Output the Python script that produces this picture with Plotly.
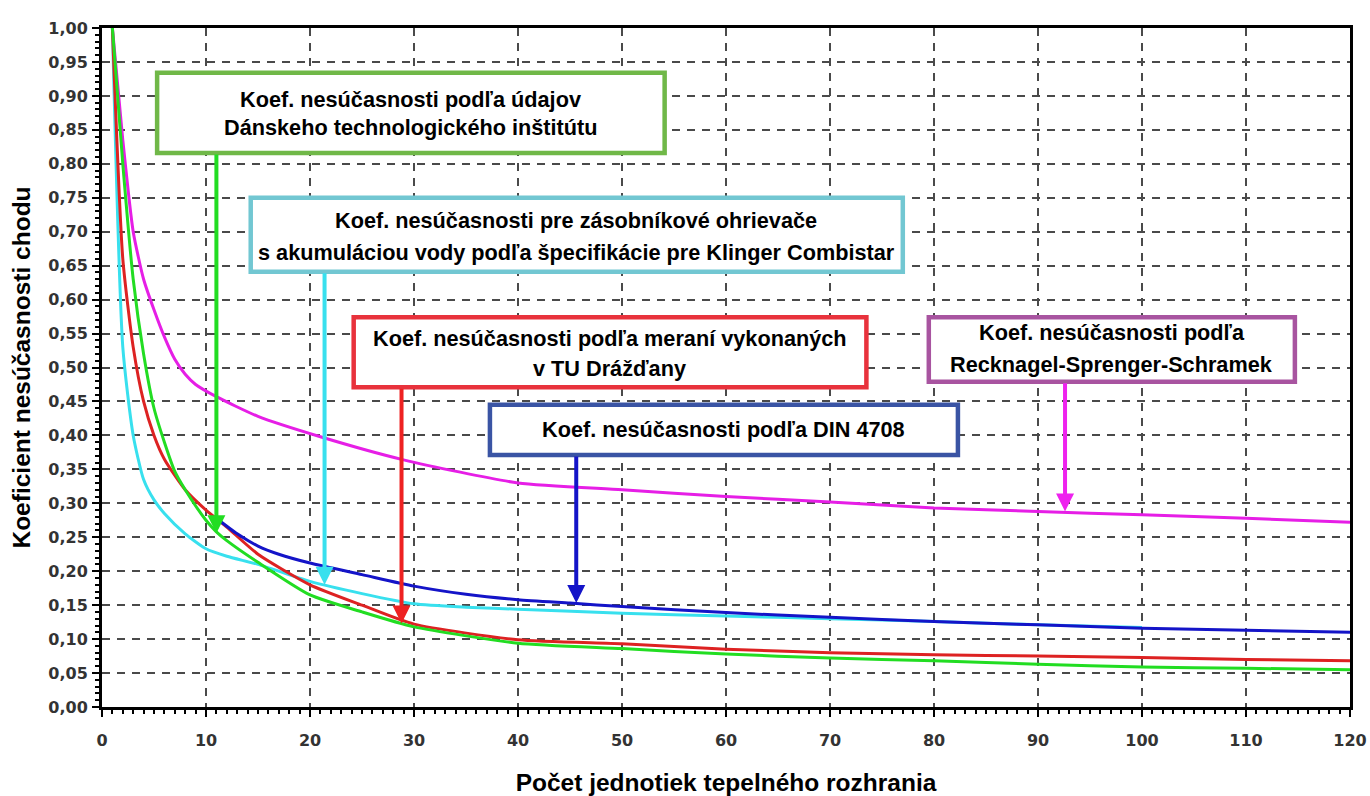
import plotly.graph_objects as go

# Koeficient nesúčasnosti - odčítané hodnoty z grafu
x_rss = [1, 2, 3, 4, 5, 6, 7, 8, 9, 11, 15, 21, 29, 40, 50, 60, 70, 80, 90, 100, 110, 120]
y_rss = [1.0, 0.835, 0.70, 0.63, 0.585, 0.545, 0.512, 0.49, 0.475, 0.457, 0.428, 0.398, 0.364,
         0.33, 0.32, 0.31, 0.302, 0.293, 0.288, 0.283, 0.278, 0.272]

x_klinger = [1, 2, 3, 4, 5, 6, 8, 10, 12, 15, 20, 25, 30, 35, 40, 50, 60, 70, 80, 90, 100]
y_klinger = [1.0, 0.53, 0.40, 0.335, 0.305, 0.285, 0.255, 0.233, 0.222, 0.21, 0.185,
             0.167, 0.152, 0.147, 0.144, 0.138, 0.134, 0.13, 0.126, 0.121, 0.117]

x_dresden = [1, 2, 3, 4, 5, 6, 8, 10, 12, 15, 20, 25, 30, 40, 50, 60, 70, 80, 90, 100, 110, 120]
y_dresden = [1.0, 0.66, 0.53, 0.45, 0.40, 0.365, 0.32, 0.29, 0.265, 0.225, 0.18, 0.15,
             0.122, 0.099, 0.093, 0.085, 0.080, 0.077, 0.075, 0.073, 0.070, 0.068]

x_dansko = [1, 2, 3, 4, 5, 6, 7, 8, 10, 11, 12, 15, 20, 25, 30, 40, 50, 60, 70, 80, 90, 100, 110, 120]
y_dansko = [1.0, 0.80, 0.63, 0.52, 0.44, 0.39, 0.347, 0.32, 0.275, 0.258, 0.245, 0.213,
            0.165, 0.14, 0.118, 0.094, 0.086, 0.078, 0.072, 0.068, 0.063, 0.059, 0.057, 0.055]

x_din = [11, 13, 15, 17, 20, 25, 30, 35, 40, 45, 50, 60, 70, 80, 90, 100, 110, 120]
y_din = [0.278, 0.255, 0.237, 0.225, 0.212, 0.195, 0.178, 0.166, 0.158, 0.153, 0.148,
         0.139, 0.132, 0.126, 0.121, 0.116, 0.113, 0.110]

x_ticks = list(range(0, 121, 10))
y_ticks = [i / 100 for i in range(0, 101, 5)]

FONT_BOX = "Liberation Sans, Arial, sans-serif"
FONT_TICK = "DejaVu Sans, Verdana, sans-serif"

fig = go.Figure()

krivky = [
    (x_rss, y_rss, "#e61ee6", "Recknagel-Sprenger-Schramek"),
    (x_klinger, y_klinger, "#38e0ee", "Klinger Combistar"),
    (x_dresden, y_dresden, "#dd2222", "TU Drážďany"),
    (x_dansko, y_dansko, "#22dd22", "Dánsky technologický inštitút"),
    (x_din, y_din, "#1414c8", "DIN 4708"),
]
for xs, ys, farba, meno in krivky:
    fig.add_trace(go.Scatter(x=xs, y=ys, mode="lines", name=meno,
                             line=dict(color=farba, width=3, shape="spline", smoothing=0.6)))

# rámčeky s popismi (x0, x1, y0, y1, farba okraja)
ramceky = [
    (5.3, 54.1, 0.816, 0.934, "#70b848"),
    (14.3, 77.0, 0.641, 0.750, "#72c7d2"),
    (24.2, 73.5, 0.471, 0.574, "#e8323c"),
    (37.3, 82.3, 0.371, 0.445, "#3a54a4"),
    (79.5, 114.7, 0.479, 0.574, "#a854a0"),
]
for x0, x1, y0, y1, farba in ramceky:
    fig.add_shape(type="rect", xref="x", yref="y", x0=x0, x1=x1, y0=y0, y1=y1,
                  line=dict(color=farba, width=4.5), fillcolor="white", layer="above")

popisy = [
    (29.7, 0.894, "Koef. nesúčasnosti podľa údajov"),
    (29.7, 0.853, "Dánskeho technologického inštitútu"),
    (45.6, 0.717, "Koef. nesúčasnosti pre zásobníkové ohrievače"),
    (45.6, 0.670, "s akumuláciou vody podľa špecifikácie pre Klinger Combistar"),
    (48.8, 0.542, "Koef. nesúčasnosti podľa meraní vykonaných"),
    (48.8, 0.498, "v TU Drážďany"),
    (59.8, 0.408, "Koef. nesúčasnosti podľa DIN 4708"),
    (97.1, 0.551, "Koef. nesúčasnosti podľa"),
    (97.1, 0.504, "Recknagel-Sprenger-Schramek"),
]
for x, y, t in popisy:
    fig.add_annotation(x=x, y=y, xref="x", yref="y", text="<b>" + t + "</b>",
                       showarrow=False, font=dict(family=FONT_BOX, size=21.7, color="black"))

# šípky (hrot x, hrot y, začiatok y, farba)
sipky = [
    (11.0, 0.256, 0.816, "#22dd22"),
    (21.4, 0.180, 0.641, "#38e0ee"),
    (28.8, 0.123, 0.471, "#ee2222"),
    (45.6, 0.153, 0.371, "#1414c8"),
    (92.6, 0.288, 0.479, "#ee22ee"),
]
for x, y, y_start, farba in sipky:
    fig.add_annotation(x=x, y=y, ax=x, ay=y_start, xref="x", yref="y", axref="x", ayref="y",
                       text="", showarrow=True, arrowhead=2, arrowsize=0.9, arrowwidth=4,
                       arrowcolor=farba, standoff=0, startstandoff=0)

os_spolocne = dict(
    ticks="outside", ticklen=7, tickwidth=2, tickcolor="black",
    tickfont=dict(family=FONT_TICK, size=16, color="#333333", weight="bold"),
    ticklabeloverflow="allow", automargin=False,
    showline=True, linewidth=3, linecolor="black", mirror=True,
    showgrid=True, gridcolor="#4a4a4a", gridwidth=1.5, griddash="8px,7px",
    zeroline=False,
)

fig.update_layout(
    width=1370, height=796,
    margin=dict(l=102, r=20, t=28, b=89),
    paper_bgcolor="white", plot_bgcolor="white",
    showlegend=False,
    separators=", ",
    xaxis=dict(
        range=[0, 120], tickvals=x_ticks, ticklabelstandoff=10,
        minor=dict(tickmode="linear", tick0=0, dtick=1, ticks="outside", ticklen=4,
                   tickwidth=1.5, tickcolor="black", showgrid=False),
        title=dict(text="<b>Počet jednotiek tepelného rozhrania</b>", standoff=39,
                   font=dict(family=FONT_BOX, size=24.5, color="black")),
        **os_spolocne,
    ),
    yaxis=dict(
        range=[0, 1], tickvals=y_ticks, tickformat=".2f", ticklabelstandoff=1,
        minor=dict(tickmode="linear", tick0=0, dtick=0.01, ticks="outside", ticklen=4,
                   tickwidth=1.5, tickcolor="black", showgrid=False),
        title=dict(text="<b>Koeficient nesúčasnosti chodu</b>", standoff=11,
                   font=dict(family=FONT_BOX, size=24.5, color="black")),
        **os_spolocne,
    ),
)

# bez okraja stránky a bez lišty nástrojov, aby graf sedel presne na okno
fig.write_html("out.html", config={"displayModeBar": False},
               post_script="document.body.style.margin='0';")
